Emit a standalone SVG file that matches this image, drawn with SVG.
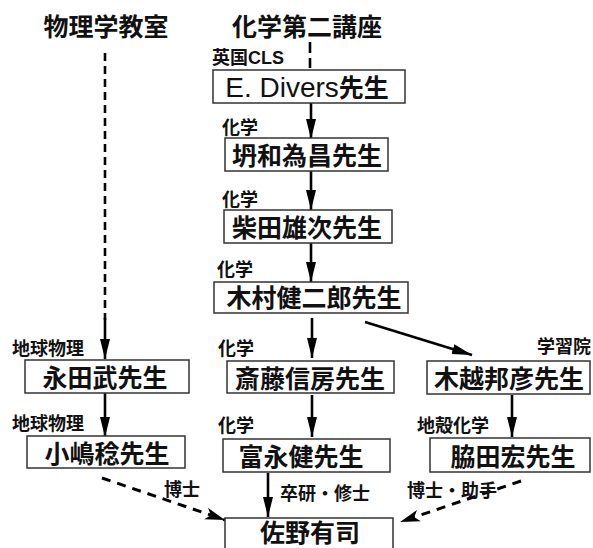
<svg xmlns="http://www.w3.org/2000/svg" width="593" height="548" viewBox="0 0 593 548">
<defs>
<style>
.title{font-family:"Noto Sans CJK JP","Liberation Sans",sans-serif;font-size:25px;font-weight:bold;fill:#111;text-anchor:middle}
.name{font-family:"Liberation Sans","Noto Sans CJK JP",sans-serif;font-size:25px;font-weight:bold;fill:#111;text-anchor:middle}
.lat{font-weight:normal;font-size:28px}
.lab{font-family:"Liberation Sans","Noto Sans CJK JP",sans-serif;font-size:18px;font-weight:bold;fill:#111}
.box{fill:#fff;stroke:#333;stroke-width:1.5}
.ln{stroke:#000;stroke-width:2.6;fill:none}
.dash{stroke:#000;stroke-width:3;fill:none;stroke-dasharray:9 7}
</style>
<marker id="ah" markerUnits="userSpaceOnUse" markerWidth="22" markerHeight="12" refX="20" refY="6" orient="auto">
<path d="M0,1 L20,6 L0,11 z" fill="#000"/>
</marker>
<marker id="ahn" markerUnits="userSpaceOnUse" markerWidth="22" markerHeight="14" refX="20" refY="7" orient="auto">
<path d="M0,1 L20,7 L0,13 L5,7 z" fill="#000"/>
</marker>
</defs>

<g id="title-physics"><text class="title" x="106" y="36">物理学教室</text></g>
<g id="title-chem"><text class="title" x="307" y="36">化学第二講座</text></g>

<g id="connectors">
<line x1="310" y1="42" x2="310" y2="68" class="ln" stroke-dasharray="11 5"/>
<line x1="105" y1="53" x2="105" y2="320" class="ln" stroke-width="3" stroke-dasharray="8 5"/>
<line x1="105" y1="318" x2="105" y2="359" class="ln" marker-end="url(#ah)"/>
<line x1="311" y1="103" x2="311" y2="139" class="ln" marker-end="url(#ah)"/>
<line x1="311" y1="171" x2="311" y2="210" class="ln" marker-end="url(#ah)"/>
<line x1="311" y1="243" x2="311" y2="282" class="ln" marker-end="url(#ah)"/>
<line x1="312" y1="318" x2="312" y2="358" class="ln" marker-end="url(#ah)"/>
<line x1="312" y1="395" x2="312" y2="437" class="ln" marker-end="url(#ah)"/>
<line x1="105" y1="393" x2="105" y2="437" class="ln" marker-end="url(#ah)"/>
<line x1="512" y1="395" x2="512" y2="437" class="ln" marker-end="url(#ah)"/>
<line x1="268" y1="473" x2="268" y2="517" class="ln" marker-end="url(#ah)"/>
<line x1="365" y1="322" x2="472" y2="355" class="ln" marker-end="url(#ah)"/>
<line x1="102" y1="478" x2="225" y2="520" class="dash" marker-end="url(#ahn)"/>
<line x1="521" y1="481" x2="400" y2="522" class="dash" marker-end="url(#ahn)"/>
</g>

<g id="n-divers"><rect class="box" x="213" y="70" width="192" height="33"/><text class="name" x="307" y="97"><tspan class="lat">E. Divers</tspan>先生</text><text class="lab" x="212" y="64">英国CLS</text></g>
<g id="n-heiwa"><rect class="box" x="225" y="138" width="163" height="33"/><text class="name" x="307" y="165">坍和為昌先生</text><text class="lab" x="222" y="134">化学</text></g>
<g id="n-shibata"><rect class="box" x="224" y="210" width="168" height="33"/><text class="name" x="307" y="237">柴田雄次先生</text><text class="lab" x="222" y="206">化学</text></g>
<g id="n-kimura"><rect class="box" x="214" y="282" width="194" height="31"/><text class="name" x="314" y="307">木村健二郎先生</text><text class="lab" x="217" y="276">化学</text></g>
<g id="n-saito"><rect class="box" x="227" y="361" width="167" height="32"/><text class="name" x="310" y="388">斎藤信房先生</text><text class="lab" x="218" y="355">化学</text></g>
<g id="n-tominaga"><rect class="box" x="223" y="439" width="167" height="33"/><text class="name" x="301" y="466">富永健先生</text><text class="lab" x="218" y="432">化学</text></g>
<g id="n-sano"><rect class="box" x="225" y="518" width="168" height="40"/><text class="name" x="310" y="542">佐野有司</text></g>
<g id="n-nagata"><rect class="box" x="25" y="360" width="164" height="33"/><text class="name" x="105" y="387">永田武先生</text><text class="lab" x="12" y="355">地球物理</text></g>
<g id="n-kojima"><rect class="box" x="27" y="436" width="158" height="32"/><text class="name" x="107" y="463">小嶋稔先生</text><text class="lab" x="12" y="430">地球物理</text></g>
<g id="n-kigoshi"><rect class="box" x="427" y="361" width="163" height="33"/><text class="name" x="509" y="388">木越邦彦先生</text><text class="lab" x="537" y="353">学習院</text></g>
<g id="n-wakita"><rect class="box" x="430" y="438" width="160" height="34"/><text class="name" x="513" y="466">脇田宏先生</text><text class="lab" x="417" y="432">地殻化学</text></g>

<g id="edge-labels">
<text class="lab" x="164" y="496">博士</text>
<text class="lab" x="280" y="500">卒研・修士</text>
<text class="lab" x="407" y="497">博士・助手</text>
</g>
</svg>
